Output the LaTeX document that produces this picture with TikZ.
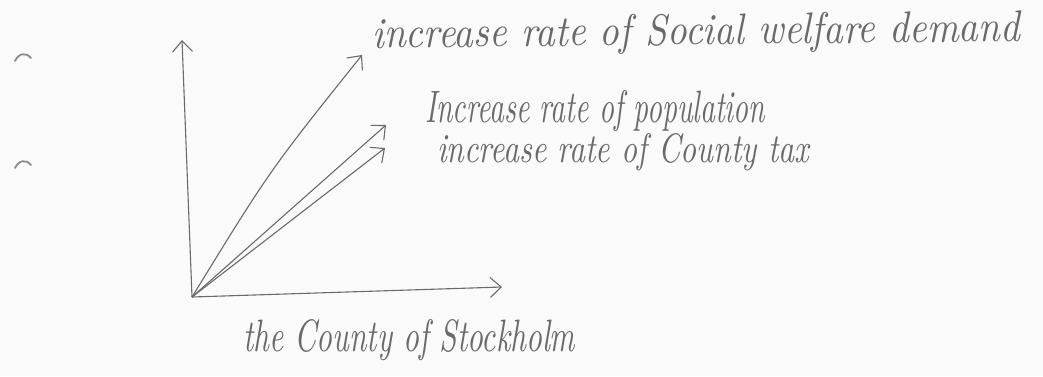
\documentclass[tikz,border=0pt]{standalone}
\usetikzlibrary{arrows.meta}
\definecolor{pencil}{HTML}{6A6A6A}
\definecolor{paper}{HTML}{FAFAFA}
\definecolor{faint}{HTML}{8A8A8A}
\begin{document}
\begin{tikzpicture}[x=1pt,y=-1pt,
  axis/.style={draw=pencil, line width=1.1pt, -{Straight Barb[length=11pt,width=20pt,line width=1.1pt]}},
  hand/.style={text=pencil, inner sep=0pt, anchor=base west, font=\itshape},
  tick/.style={draw=faint, line width=1.8pt, line cap=round}]
\fill[paper] (0,0) rectangle (1043,376);
\useasboundingbox (0,0) rectangle (1043,376);
\coordinate (O) at (192,297);
\coordinate (up) at (182,40);
\coordinate (right) at (502,287);
\coordinate (sw) at (362,55);
\coordinate (pop) at (386,125);
\coordinate (tax) at (385,148);
\draw[axis] (O) -- (up);
\draw[axis] (O) -- (right);
\draw[axis] (O) .. controls (270,170) .. (sw);
\draw[axis] (O) -- (pop);
\draw[axis] (O) -- (tax);
\node[hand, rotate=0.6] (lsw) at (372,48) {\resizebox{648pt}{31pt}{increase rate of Social welfare demand}};
\node[hand] (lpop) at (425,122) {\resizebox{340pt}{32pt}{Increase rate of population}};
\node[hand] (ltax) at (437,162) {\resizebox{372pt}{29pt}{increase rate of County tax}};
\node[hand] (lcty) at (243,351) {\resizebox{332pt}{32pt}{the County of Stockholm}};
\draw[tick] (15,61) .. controls (19,53) and (26,52) .. (31,58);
\draw[tick] (15,168) .. controls (19,160) and (26,159) .. (31,165);
\end{tikzpicture}
\end{document}
